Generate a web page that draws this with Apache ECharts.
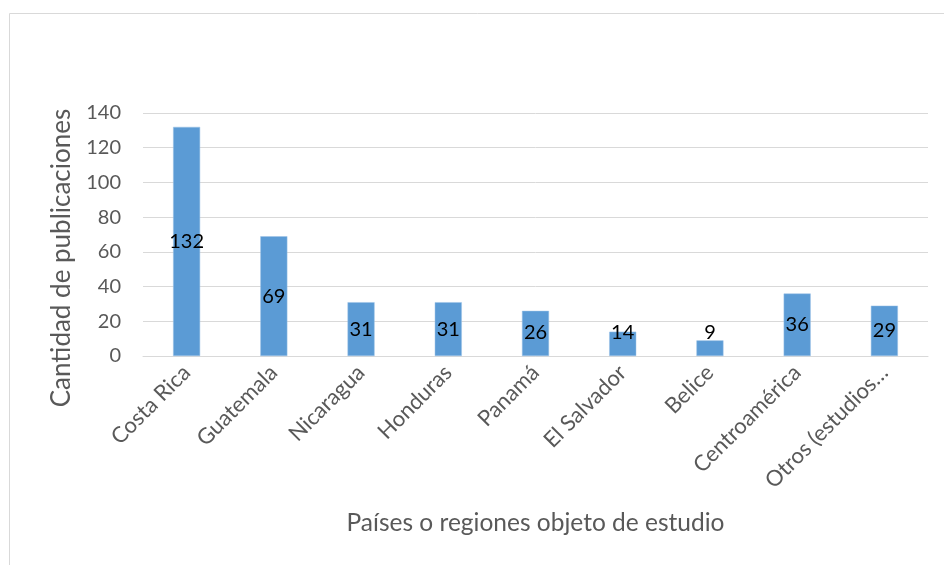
<!DOCTYPE html>
<html>
<head>
<meta charset="utf-8">
<script src="https://cdn.jsdelivr.net/npm/echarts@6/dist/echarts.min.js"></script>
<style>
    html, body { margin: 0; padding: 0; background: #fff; }
    #chart { width: 944px; height: 565px; }
</style>
</head>
<body>
<div id="chart"></div>
<script>
    // datos del grafico
    var paises = ['Costa Rica', 'Guatemala', 'Nicaragua', 'Honduras', 'Panamá',
        'El Salvador', 'Belice', 'Centroamérica', 'Otros (estudios…'];
    var publicaciones = [132, 69, 31, 31, 26, 14, 9, 36, 29];
    var ticksY = { min: 0, max: 140, interval: 20 };

    var fuente = 'Lato';
    var myChart = echarts.init(document.getElementById('chart'));

    // barras cortas: Excel deja la etiqueta un poco por encima del centro
    var datos = publicaciones.map(function (v) {
        if (v < 29) {
            return { value: v, label: { position: 'insideBottom', distance: 13 } };
        }
        return v;
    });

    var option = {
        animation: false,
        textStyle: { fontFamily: fuente },
        graphic: [{
            type: 'rect',
            shape: { x: 9.5, y: 13.5, width: 1000, height: 600 },
            style: { fill: 'none', stroke: '#D9D9D9', lineWidth: 1 }
        }],
        grid: { left: 143, right: 16, top: 113, bottom: 209 },
        xAxis: {
            type: 'category',
            data: paises,
            name: 'Países o regiones objeto de estudio',
            nameLocation: 'middle',
            nameGap: 155,
            nameTextStyle: { color: '#595959', fontSize: 24.5, fontFamily: fuente },
            axisLine: { lineStyle: { color: '#D9D9D9' } },
            axisTick: { show: false },
            axisLabel: {
                rotate: 45,
                interval: 0,
                margin: 13,
                color: '#595959',
                fontSize: 22,
                fontFamily: fuente
            }
        },
        yAxis: {
            type: 'value',
            min: ticksY.min,
            max: ticksY.max,
            interval: ticksY.interval,
            name: 'Cantidad de publicaciones',
            nameLocation: 'middle',
            nameGap: 68,
            nameTextStyle: { color: '#595959', fontSize: 26, fontFamily: fuente, padding: [0, 0, 0, -47] },
            axisLine: { show: false },
            axisTick: { show: false },
            axisLabel: { color: '#595959', fontSize: 20, margin: 22, fontFamily: fuente },
            splitLine: { lineStyle: { color: '#D9D9D9' } }
        },
        series: [{
            type: 'bar',
            data: datos,
            barWidth: '31%',
            itemStyle: { color: '#5B9BD5', borderColor: '#9DC3E6', borderWidth: 0.5 },
            label: {
                show: true,
                position: 'inside',
                color: '#000',
                fontSize: 20,
                fontFamily: fuente
            }
        }]
    };
    option && myChart.setOption(option);
</script>
</body>
</html>
